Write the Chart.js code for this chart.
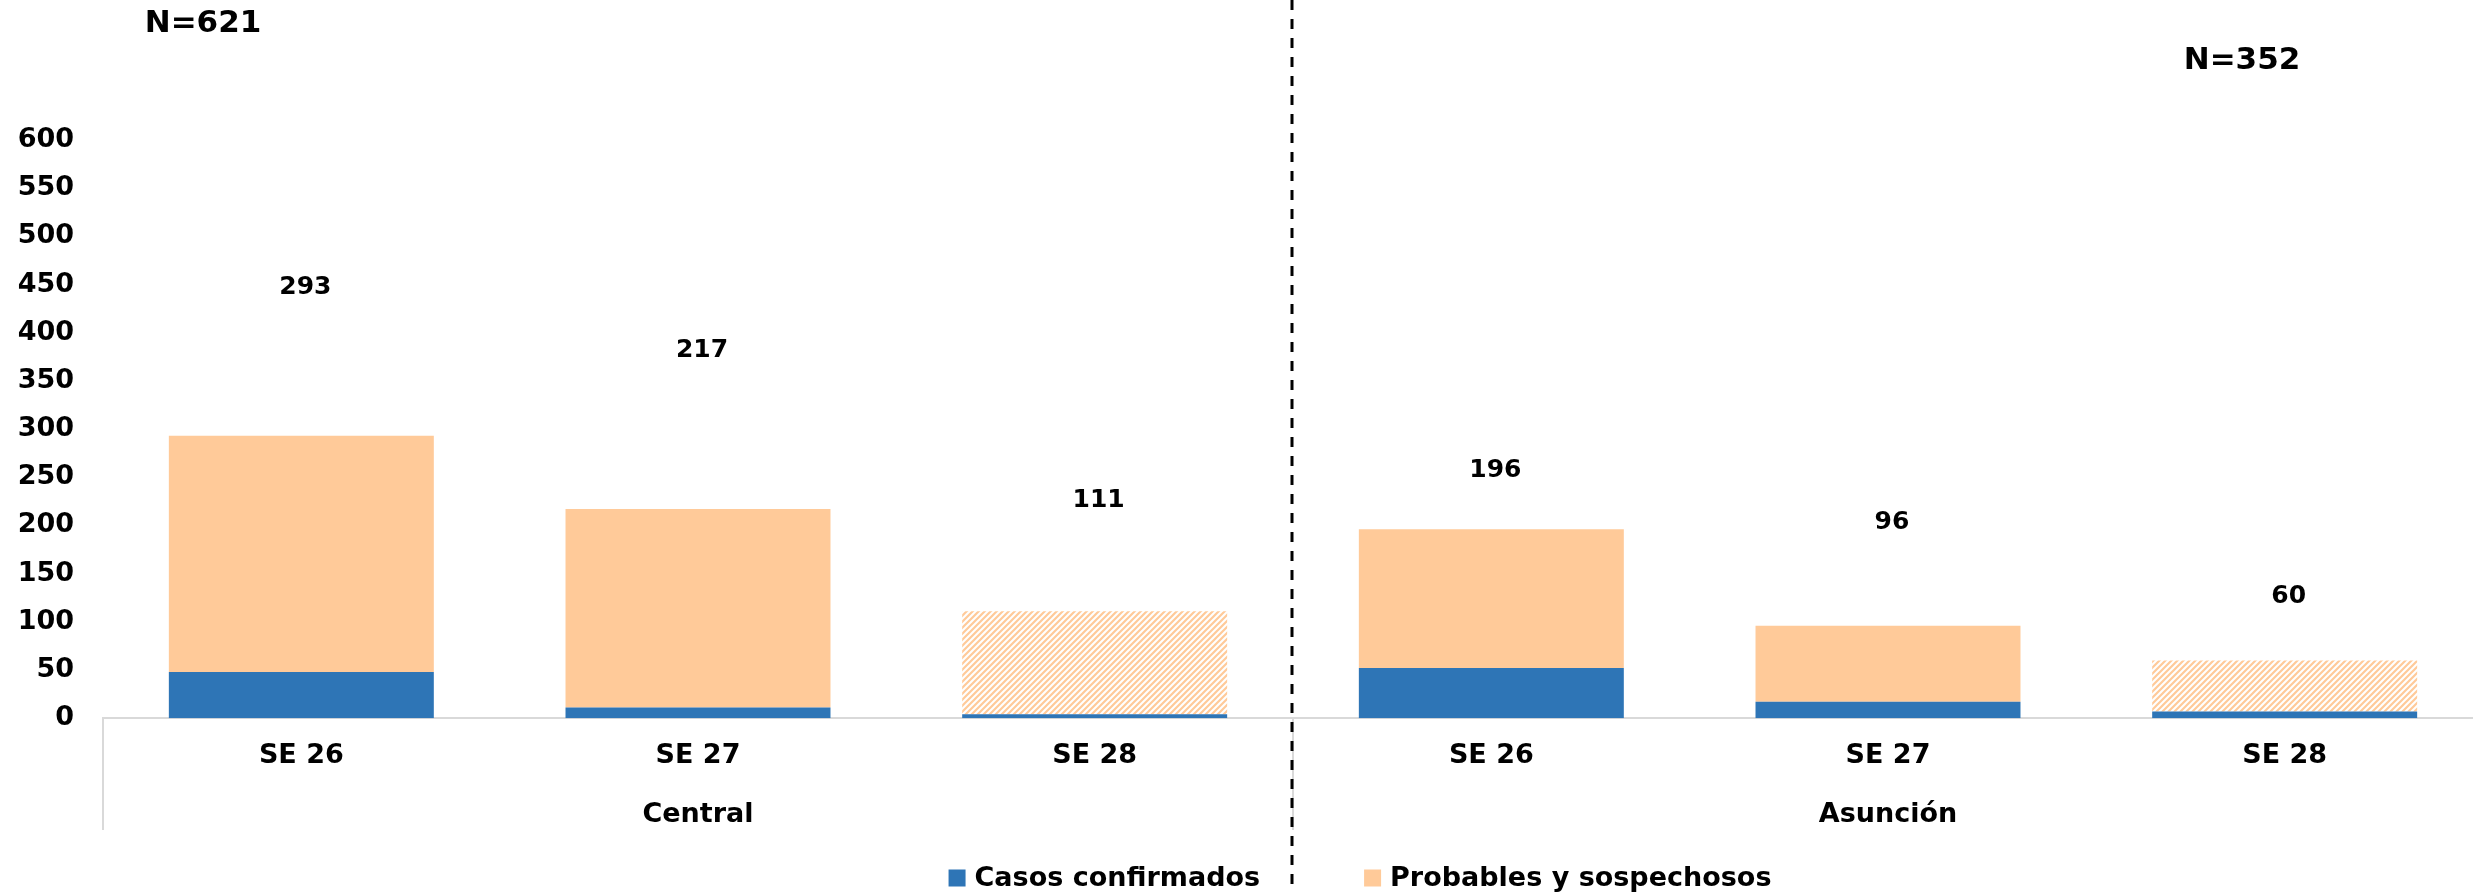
<!DOCTYPE html>
<html>
<head>
<meta charset="utf-8">
<script src="https://cdn.jsdelivr.net/npm/chart.js@4.4.1/dist/chart.umd.min.js"></script>
<style>
  html, body { margin: 0; padding: 0; background: #ffffff; overflow: hidden; }
  #wrap { position: relative; width: 2483px; height: 896px; }
  #c { display: block; width: 2483px; height: 896px; }
</style>
</head>
<body>
<div id="wrap"><canvas id="c" width="2483" height="896"></canvas></div>
<script>
// ---- data ----
const weeks = ['SE 26', 'SE 27', 'SE 28', 'SE 26', 'SE 27', 'SE 28'];
const regions = ['Central', 'Asunción'];
const confirmed = [48, 11, 4, 52, 17, 7];
const probables = [245, 206, 107, 144, 79, 53];
const seriesNames = ['Casos confirmados', 'Probables y sospechosos'];
const yMin = 0, yMax = 600, yStep = 50;

// ---- styles ----
const FONT = "'DejaVu Sans', sans-serif";
const BLUE = '#2E75B6';
const ORANGE = '#FFCA99';
const hatchedIdx = [2, 5];

function makeHatch() {
  const t = document.createElement('canvas');
  t.width = 6; t.height = 6;
  const g = t.getContext('2d');
  g.fillStyle = '#ffffff'; g.fillRect(0, 0, 6, 6);
  g.strokeStyle = ORANGE; g.lineWidth = 2.2;
  g.beginPath();
  g.moveTo(-1, 7); g.lineTo(7, -1);
  g.moveTo(-4, 4); g.lineTo(4, -4);
  g.moveTo(2, 10); g.lineTo(10, 2);
  g.stroke();
  return g.createPattern(t, 'repeat');
}
const canvas = document.getElementById('c');
const hatch = makeHatch();
const orangeFills = probables.map((v, i) => hatchedIdx.includes(i) ? hatch : ORANGE);

const overlayPlugin = {
  id: 'overlay',
  afterDatasetsDraw(chart, args, opts) {
    const ctx = chart.ctx;
    const xs = chart.scales.x, ys = chart.scales.y;
    const area = chart.chartArea;
    const boundary = (i) => i < 0 ? area.left : (xs.getPixelForValue(i) + xs.getPixelForValue(i + 1)) / 2;
    ctx.save();
    // group separators below axis
    ctx.strokeStyle = '#D9D9D9';
    ctx.lineWidth = 2;
    [-1, 2].forEach(i => {
      const x = Math.round(boundary(i));
      ctx.beginPath(); ctx.moveTo(x, area.bottom); ctx.lineTo(x, opts.sepBottom); ctx.stroke();
    });
    // total labels
    ctx.fillStyle = '#000';
    ctx.font = "bold 25px " + FONT;
    ctx.textAlign = 'center';
    ctx.textBaseline = 'middle';
    weeks.forEach((w, i) => {
      const total = confirmed[i] + probables[i];
      ctx.fillText(String(total), xs.getPixelForValue(i) + 4, ys.getPixelForValue(opts.labelLevels[i]));
    });
    // N labels
    ctx.font = "bold 31px " + FONT;
    const n1 = [0, 1, 2].reduce((s, i) => s + confirmed[i] + probables[i], 0);
    const n2 = [3, 4, 5].reduce((s, i) => s + confirmed[i] + probables[i], 0);
    ctx.fillText('N=' + n1, opts.n1.x, opts.n1.y);
    ctx.fillText('N=' + n2, opts.n2.x, opts.n2.y);
    // dashed divider
    const dx = Math.round(boundary(2)) - 1;
    ctx.strokeStyle = '#000';
    ctx.lineWidth = 3;
    ctx.setLineDash([10, 9]);
    ctx.beginPath(); ctx.moveTo(dx, 0); ctx.lineTo(dx, 890); ctx.stroke();
    ctx.setLineDash([]);
    // legend
    ctx.font = "bold 27px " + FONT;
    ctx.textAlign = 'left';
    const box = 17, gapText = 9, gapItem = 104;
    const colors = [BLUE, ORANGE];
    const widths = seriesNames.map(s => box + gapText + ctx.measureText(s).width);
    const totalW = widths[0] + gapItem + widths[1];
    let x = opts.legendCenter - totalW / 2;
    const ly = opts.legendY;
    seriesNames.forEach((s, i) => {
      ctx.fillStyle = colors[i];
      ctx.fillRect(x, ly - box / 2, box, box);
      ctx.fillStyle = '#000';
      ctx.fillText(s, x + box + gapText, ly + 1);
      x += widths[i] + gapItem;
    });
    ctx.restore();
  }
};

new Chart(canvas, {
  type: 'bar',
  data: {
    labels: weeks,
    datasets: [
      { label: seriesNames[0], data: confirmed, backgroundColor: BLUE, borderWidth: 0,
        barPercentage: 0.668, categoryPercentage: 1.0 },
      { label: seriesNames[1], data: probables, backgroundColor: orangeFills, borderWidth: 0,
        barPercentage: 0.668, categoryPercentage: 1.0 }
    ]
  },
  options: {
    responsive: false,
    animation: false,
    devicePixelRatio: 1,
    layout: { padding: { top: 140, right: 0, bottom: 61, left: 0 } },
    plugins: {
      legend: { display: false },
      tooltip: { enabled: false },
      overlay: {
        labelLevels: [447, 382, 226, 257, 203, 126],
        n1: { x: 203, y: 24 },
        n2: { x: 2242, y: 61 },
        sepBottom: 830,
        legendCenter: 1360,
        legendY: 878
      }
    },
    scales: {
      x: {
        type: 'category',
        stacked: true,
        offset: true,
        position: 'bottom',
        grid: { display: false, drawTicks: false },
        border: { display: true, color: '#D9D9D9', width: 2 },
        ticks: { color: '#000', font: { family: FONT, size: 27, weight: 'bold' }, padding: 22, maxRotation: 0, autoSkip: false }
      },
      x2: {
        type: 'category',
        labels: regions,
        offset: true,
        position: 'bottom',
        grid: { display: false, drawTicks: false },
        border: { display: false },
        ticks: { color: '#000', font: { family: FONT, size: 27, weight: 'bold' }, padding: 4, maxRotation: 0 }
      },
      y: {
        stacked: true,
        min: yMin, max: yMax,
        grid: { display: false, drawTicks: false },
        border: { display: false },
        ticks: { stepSize: yStep, color: '#000', font: { family: FONT, size: 27, weight: 'bold' }, padding: 29 },
        afterFit(scale) { scale.width = 103; }
      }
    }
  },
  plugins: [overlayPlugin]
});
</script>
</body>
</html>
